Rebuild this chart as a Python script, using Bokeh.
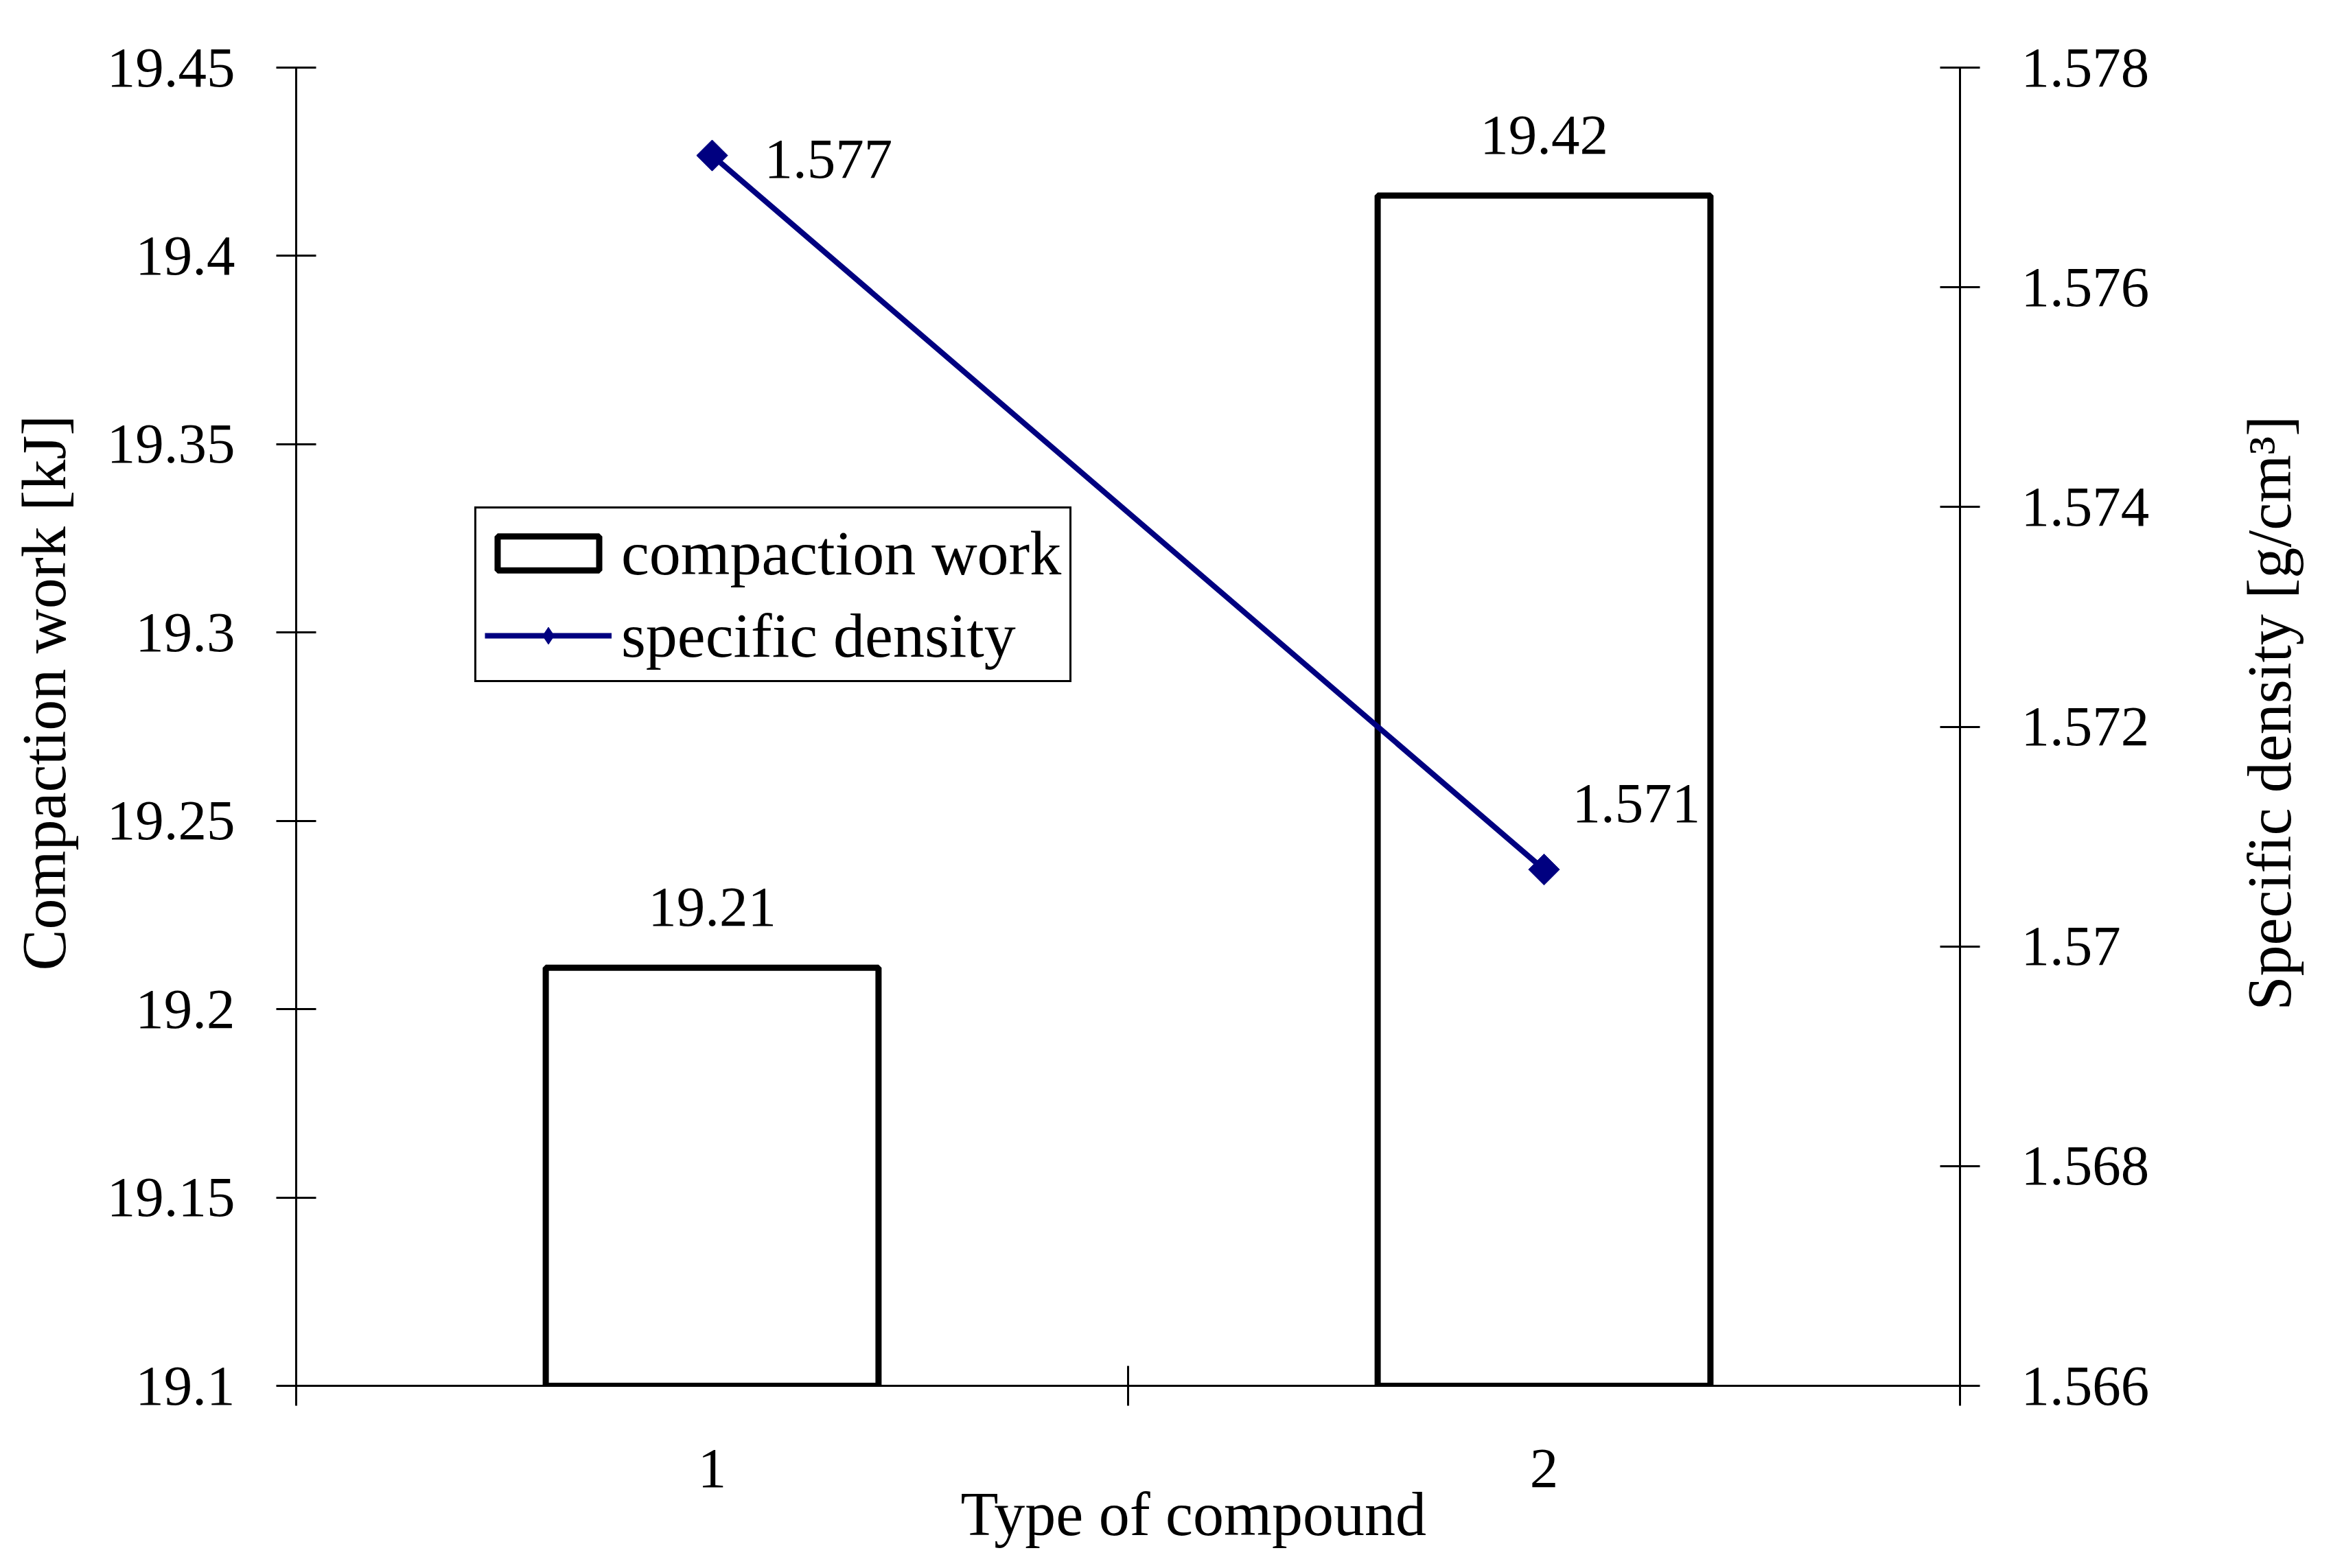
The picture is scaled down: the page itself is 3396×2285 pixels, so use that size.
import math
from bokeh.plotting import figure
from bokeh.layouts import row
from bokeh.models import (Range1d, LinearAxis, FixedTicker, ColumnDataSource,
                          LabelSet, Title, LegendItem, Legend)
from bokeh.core.properties import value
from bokeh.embed import file_html
from bokeh.resources import INLINE

# ---------------- data ----------------
compound_labels = ["1", "2"]
compound_x = [1, 2]
compaction_work = [19.211, 19.416]
work_labels = ["19.21", "19.42"]
specific_density = [1.5772, 1.5707]
density_labels = ["1.577", "1.571"]

work_ticks = [19.1, 19.15, 19.2, 19.25, 19.3, 19.35, 19.4, 19.45]
work_tick_labels = ["19.1", "19.15", "19.2", "19.25", "19.3", "19.35", "19.4", "19.45"]
density_ticks = [1.566, 1.568, 1.57, 1.572, 1.574, 1.576, 1.578]
density_tick_labels = ["1.566", "1.568", "1.57", "1.572", "1.574", "1.576", "1.578"]
category_bounds = [0.5, 1.5, 2.5]

x_title = "Type of compound"
left_title = "Compaction work [kJ]"
right_title = "Specific density [g/cm³]"
legend_labels = ["compaction work", "specific density"]

# label offsets (style, screen px)
density_dx = [76, 41]
density_dy = [-32, 69]

# ---------------- style ----------------
H = 2277
WL, WM, WR = 140, 3090, 158          # left title strip, main chart, right title strip
FONT = "Liberation Serif"
FS = "83px"
FS_TITLE = "90px"
NAVY = "#000080"

# ---------------- main chart ----------------
p = figure(width=WM, height=H, output_backend="svg", toolbar_location=None,
           x_range=Range1d(category_bounds[0], category_bounds[-1]),
           y_range=Range1d(work_ticks[0], work_ticks[-1]),
           min_border_left=291, min_border_right=375, min_border_top=98,
           min_border_bottom=258)
p.extra_y_ranges = {"dens": Range1d(density_ticks[0], density_ticks[-1])}
p.outline_line_color = None
p.grid.visible = False
p.background_fill_color = "white"
p.border_fill_color = "white"

src = ColumnDataSource(dict(x=compound_x, work=compaction_work, wl=work_labels,
                            dens=specific_density, dl=density_labels,
                            dx=density_dx, dy=density_dy))

r_bar = p.vbar(x="x", top="work", bottom=work_ticks[0], width=0.4, source=src,
               fill_color="white", line_color="black", line_width=9)
r_line = p.line("x", "dens", source=src, y_range_name="dens", line_color=NAVY,
                line_width=8)
r_sq = p.scatter("x", "dens", source=src, y_range_name="dens", marker="square",
                 angle=math.pi / 4, size=32, fill_color=NAVY, line_color=NAVY)
# diamond hidden under the rotated squares; it gives the legend its diamond icon
r_dm = p.scatter("x", "dens", source=src, y_range_name="dens", marker="diamond",
                 size=43, fill_color=NAVY, line_color=NAVY)

p.add_layout(LabelSet(x="x", y="work", text="wl", source=src, y_offset=61,
                      text_align="center", text_baseline="alphabetic",
                      text_font=value(FONT), text_font_size=value(FS),
                      text_color="black"))
p.add_layout(LabelSet(x="x", y="dens", text="dl", source=src, y_range_name="dens",
                      x_offset="dx", y_offset="dy",
                      text_align="left", text_baseline="alphabetic",
                      text_font=value(FONT), text_font_size=value(FS),
                      text_color="black"))

def style_axis(ax):
    ax.axis_line_width = 3
    ax.axis_line_color = "black"
    ax.major_tick_line_width = 3
    ax.major_tick_line_color = "black"
    ax.minor_tick_line_width = 3
    ax.minor_tick_line_color = "black"
    ax.major_label_text_font = FONT
    ax.major_label_text_font_size = FS
    ax.major_label_text_color = "black"

# left axis
ax_l = p.yaxis[0]
style_axis(ax_l)
ax_l.ticker = FixedTicker(ticks=work_ticks, minor_ticks=[])
ax_l.major_label_overrides = dict(zip(work_ticks, work_tick_labels))
ax_l.major_tick_in = 29
ax_l.major_tick_out = 29
ax_l.minor_tick_in = 0
ax_l.minor_tick_out = 0
ax_l.major_label_standoff = 60

# right axis
ax_r = LinearAxis(y_range_name="dens")
style_axis(ax_r)
ax_r.ticker = FixedTicker(ticks=density_ticks, minor_ticks=[])
ax_r.major_label_overrides = dict(zip(density_ticks, density_tick_labels))
ax_r.major_tick_in = 29
ax_r.major_tick_out = 29
ax_r.minor_tick_in = 0
ax_r.minor_tick_out = 0
ax_r.major_label_standoff = 60
p.add_layout(ax_r, "right")

# bottom axis
ax_b = p.xaxis[0]
style_axis(ax_b)
ax_b.ticker = FixedTicker(ticks=compound_x, minor_ticks=category_bounds)
ax_b.major_label_overrides = dict(zip(compound_x, compound_labels))
ax_b.major_tick_in = 0
ax_b.major_tick_out = 0
ax_b.minor_tick_in = 29
ax_b.minor_tick_out = 29
ax_b.major_label_standoff = 64

# x axis title, slightly right of centre as in the reference
p.add_layout(Title(text=x_title, align="left", offset=968, standoff=-30,
                   text_font=FONT, text_font_size=FS_TITLE,
                   text_font_style="normal", text_color="black"), "below")

# legend
leg = Legend(items=[LegendItem(label=legend_labels[0], renderers=[r_bar]),
                    LegendItem(label=legend_labels[1], renderers=[r_line, r_dm])])
leg.location = (260, 1025)
leg.glyph_width = 185
leg.glyph_height = 62
leg.label_height = 60
leg.spacing = 14
leg.padding = 12
leg.margin = 0
leg.label_standoff = 14
leg.border_line_color = "black"
leg.border_line_width = 3
leg.border_line_alpha = 1
leg.label_text_font = FONT
leg.label_text_font_size = "92px"
leg.label_text_color = "black"
leg.background_fill_color = "white"
leg.background_fill_alpha = 1
p.add_layout(leg, "center")

# ---------------- title strips (vertical titles reading bottom-to-top) ----------------
def title_strip(width, text, base_x, center_y):
    f = figure(width=width, height=H, output_backend="svg", toolbar_location=None,
               x_range=Range1d(0, width), y_range=Range1d(0, H),
               x_axis_location=None, y_axis_location=None,
               min_border=0, min_border_left=0, min_border_right=0,
               min_border_top=0, min_border_bottom=0)
    f.outline_line_color = None
    f.grid.visible = False
    f.background_fill_color = "white"
    f.border_fill_color = "white"
    f.text(x=[base_x], y=[H - center_y], text=[text], angle=math.pi / 2,
           text_align="center", text_baseline="alphabetic",
           text_font=value(FONT), text_font_size=value(FS_TITLE),
           text_color="black")
    return f

p_left = title_strip(WL, left_title, 64, 1080)
p_right = title_strip(WR, right_title, 76, 1115)

layout = row(p_left, p, p_right, spacing=0)
open("out.html", "w").write(file_html(layout, INLINE))
